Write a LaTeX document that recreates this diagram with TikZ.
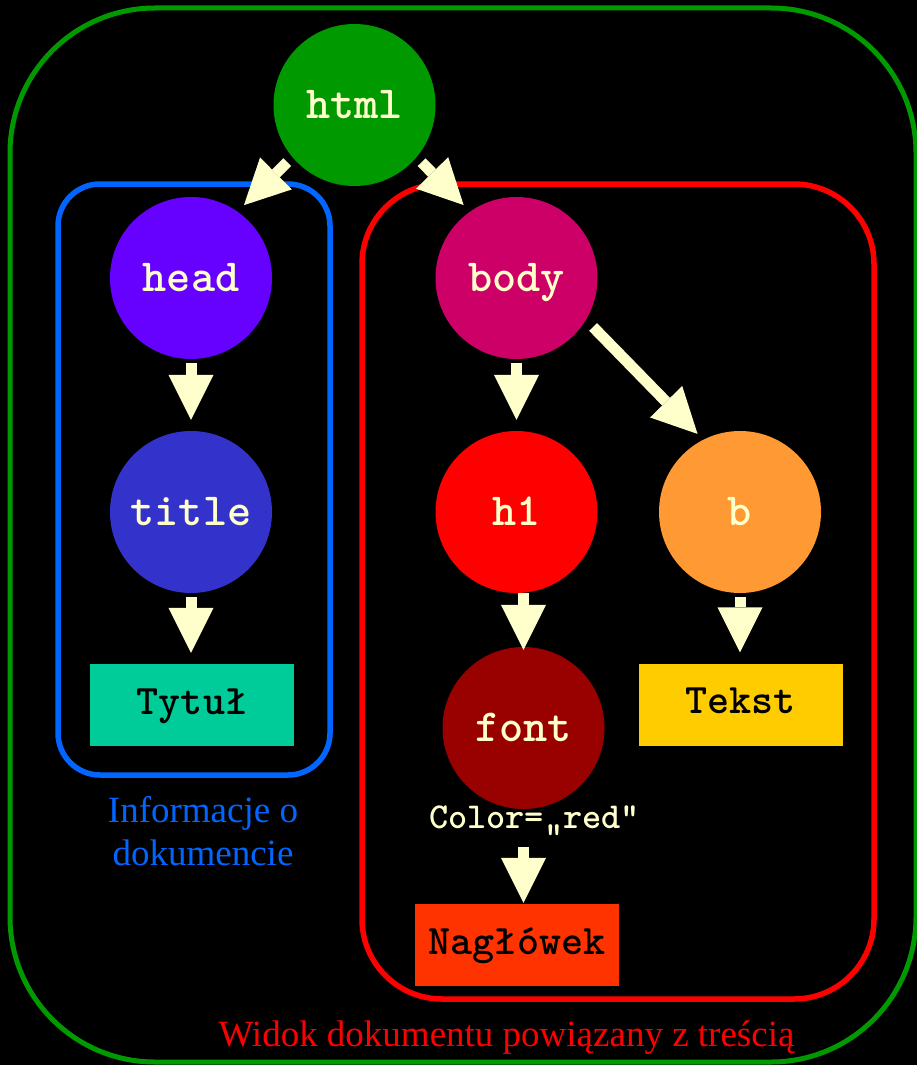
\documentclass[tikz,border=0pt]{standalone}
\usepackage{fontspec}
\setmainfont{Liberation Serif}
\usetikzlibrary{arrows.meta}
\newcommand\monof{\ttfamily\bfseries\addfontfeature{FakeBold=2.5}}
\definecolor{bgc}{HTML}{000000}
\definecolor{arrowc}{HTML}{FFFFCC}
\definecolor{greenc}{HTML}{009900}
\definecolor{bluec}{HTML}{0066FF}
\definecolor{redc}{HTML}{FF0000}
\definecolor{headc}{HTML}{6600FF}
\definecolor{titlec}{HTML}{3333CC}
\definecolor{bodyc}{HTML}{CC0066}
\definecolor{honec}{HTML}{FF0000}
\definecolor{bc}{HTML}{FF9933}
\definecolor{fontc}{HTML}{990000}
\definecolor{tytulc}{HTML}{00CC99}
\definecolor{tekstc}{HTML}{FFCC00}
\definecolor{naglc}{HTML}{FF3300}
\begin{document}
\begin{tikzpicture}[x=1pt,y=-1pt,
  circ/.style={circle, minimum size=162pt, inner sep=0pt, text=arrowc,
    font=\fontsize{46}{46}\selectfont\monof, text height=26pt, text depth=0pt},
  leaf/.style={rectangle, minimum width=204pt, minimum height=82pt, inner sep=0pt, text=black,
    font=\fontsize{42}{42}\selectfont\monof, text height=18pt, text depth=0pt},
  blk/.style={draw=arrowc, line width=11pt, -{Triangle[width=45pt,length=45pt,line width=0pt]}},
  frame/.style={draw, rounded corners=#1},
  lbl/.style={anchor=base, font=\fontsize{37}{43}\selectfont}
]
\useasboundingbox (0,0) rectangle (917,1065);
\fill[bgc] (0,0) rectangle (917,1065);
% frames
\draw[frame=145, greenc, line width=5pt] (10,8) rectangle (916,1062);
\draw[frame=42, bluec, line width=5.5pt] (58,184) rectangle (330,775);
\draw[frame=80, redc, line width=5.5pt] (362,184) rectangle (874,999);
% nodes
\node[circ, fill=greenc] (html) at (354.5,105) {html};
\node[circ, fill=headc] (head) at (191,278) {head};
\node[circ, fill=titlec] (title) at (191,512) {title};
\node[circ, fill=bodyc] (body) at (516.5,278) {body};
\node[circ, fill=honec] (h1) at (516.5,512) {h1};
\node[circ, fill=bc] (b) at (740,512) {b};
\node[circ, fill=fontc] (font) at (523.5,728) {font};
\node[leaf, fill=tytulc] (tytul) at (192,705) {Tytuł};
\node[leaf, fill=tekstc] (tekst) at (740.5,704.5) {Tekst};
\node[leaf, fill=naglc] (nagl) at (517,945) {Nagłówek};
\node[anchor=base, text=arrowc, inner sep=0pt, font=\fontsize{36.5}{36.5}\selectfont\monof] (attr) at (534.5,828) {Color=„red”};
\node[lbl, text=bluec] (info1) at (203,822) {Informacje o};
\node[lbl, text=bluec] (info2) at (203,865) {dokumencie};
\node[lbl, text=redc] (widok) at (506.5,1046) {Widok dokumentu powiązany z treścią};
% arrows
\draw[blk, shorten <=7pt, shorten >=9pt] (html.220) -- (head.55);
\draw[blk, shorten <=7pt, shorten >=9pt] (html.320) -- (body.125);
\draw[blk, shorten <=4pt, shorten >=11pt] (head.south) -- (title.north);
\draw[blk, shorten <=4pt, shorten >=11pt] (body.south -| h1.north) -- (h1.north);
\draw[blk, shorten <=10pt, shorten >=8pt] (body.329) -- (b.117);
\draw[blk, shorten <=4pt, shorten >=11pt] (title.south) -- (tytul.north -| title.south);
\draw[blk, shorten <=4pt, shorten >=11pt] (b.south) -- (tekst.north -| b.south);
\draw[blk, shorten <=0pt, shorten >=-3pt] (h1.south -| font.north) -- (font.north);
\draw[blk, shorten <=19pt, shorten >=1pt] (attr.base -| font.north) -- (nagl.north -| font.north);
\end{tikzpicture}
\end{document}
